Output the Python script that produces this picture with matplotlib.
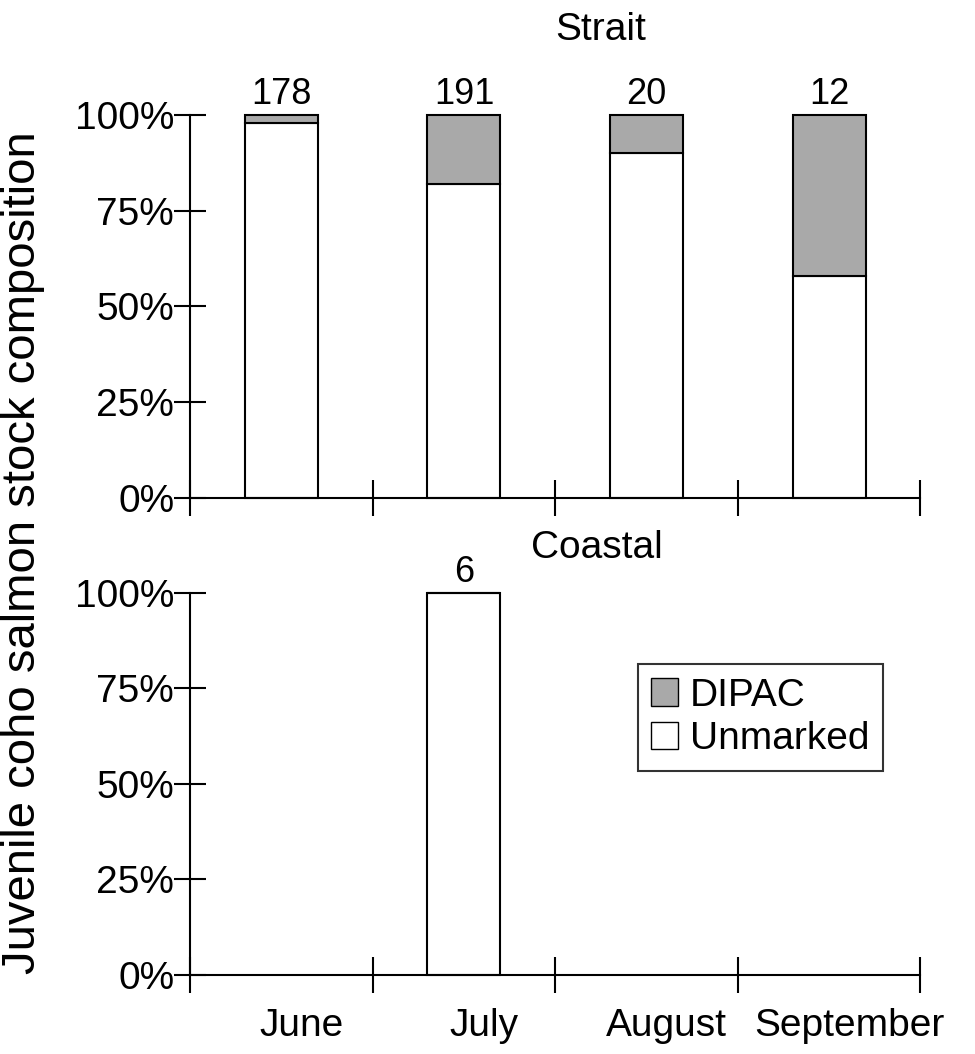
import numpy as np
import matplotlib
matplotlib.use("Agg")
import matplotlib.pyplot as plt
from matplotlib.patches import Patch
from matplotlib.transforms import ScaledTranslation

plt.rcParams['font.family'] = ['Liberation Sans', 'DejaVu Sans']

# 数据
months = ['June', 'July', 'August', 'September']
strait_n = [178, 191, 20, 12]
strait_unmarked = [0.98, 0.82, 0.90, 0.58]
coastal_n = [0, 6, 0, 0]
coastal_unmarked = [0.0, 1.0, 0.0, 0.0]
y_ticks = [0, 0.25, 0.5, 0.75, 1.0]
y_labels = ['0%', '25%', '50%', '75%', '100%']

gray = '#a9a9a9'

fig = plt.figure(figsize=(9.75, 10.54), dpi=100)
ax_top = fig.add_axes([0.195, 0.5275, 0.749, 0.3635])
ax_bot = fig.add_axes([0.195, 0.075, 0.749, 0.3625])


def draw_panel(ax, n, unmarked, show_months):
    x = np.arange(len(months)) + 0.5
    for xi, ni, u in zip(x, n, unmarked):
        if ni == 0:
            continue
        ax.bar(xi, u, width=0.4, color='white', edgecolor='black', linewidth=1.5, clip_on=False)
        ax.bar(xi, 1 - u, bottom=u, width=0.4, color=gray, edgecolor='black',
               linewidth=1.5, clip_on=False)
        ax.text(xi, 1.008, str(ni), ha='center', va='bottom', fontsize=26)
    ax.set_xlim(0, 4)
    ax.set_ylim(0, 1)
    for s in ['top', 'right']:
        ax.spines[s].set_visible(False)
    ax.spines['left'].set_linewidth(1.5)
    ax.spines['bottom'].set_linewidth(1.5)
    ax.set_xticks([0, 1, 2, 3, 4])
    ax.set_xticklabels([])
    ax.tick_params(axis='x', which='major', direction='inout', length=26, width=1.5)
    ax.set_yticks(y_ticks)
    ax.set_yticklabels(y_labels, fontsize=28)
    ax.tick_params(axis='y', direction='inout', length=23, width=1.5, pad=0)
    if show_months:
        ax.set_xticks(x, minor=True)
        ax.set_xticklabels(months, minor=True, fontsize=28)
        ax.tick_params(axis='x', which='minor', length=0, pad=24)
        # 月份标签略向右偏
        shift = ScaledTranslation(0.2, 0, fig.dpi_scale_trans)
        for lab in ax.get_xticklabels(minor=True):
            lab.set_transform(lab.get_transform() + shift)


draw_panel(ax_top, strait_n, strait_unmarked, False)
draw_panel(ax_bot, coastal_n, coastal_unmarked, True)

fig.text(0.616, 0.962, 'Strait', ha='center', va='baseline', fontsize=28)
fig.text(0.612, 0.4706, 'Coastal', ha='center', va='baseline', fontsize=28)

handles = [Patch(facecolor=gray, edgecolor='black', label='DIPAC'),
           Patch(facecolor='white', edgecolor='black', label='Unmarked')]
leg = ax_bot.legend(handles=handles, loc='upper right', bbox_to_anchor=(0.949, 0.814),
                    fontsize=28, frameon=True, fancybox=False, handlelength=0.7,
                    handleheight=0.7, handletextpad=0.3, borderpad=0.35,
                    labelspacing=0.2, borderaxespad=0)
leg.get_frame().set_edgecolor('black')
leg.get_frame().set_linewidth(1.5)

fig.text(0.024, 0.476, 'Juvenile coho salmon stock composition', rotation=90,
         ha='center', va='center', fontsize=34)

fig.savefig('out.png', dpi=100)
